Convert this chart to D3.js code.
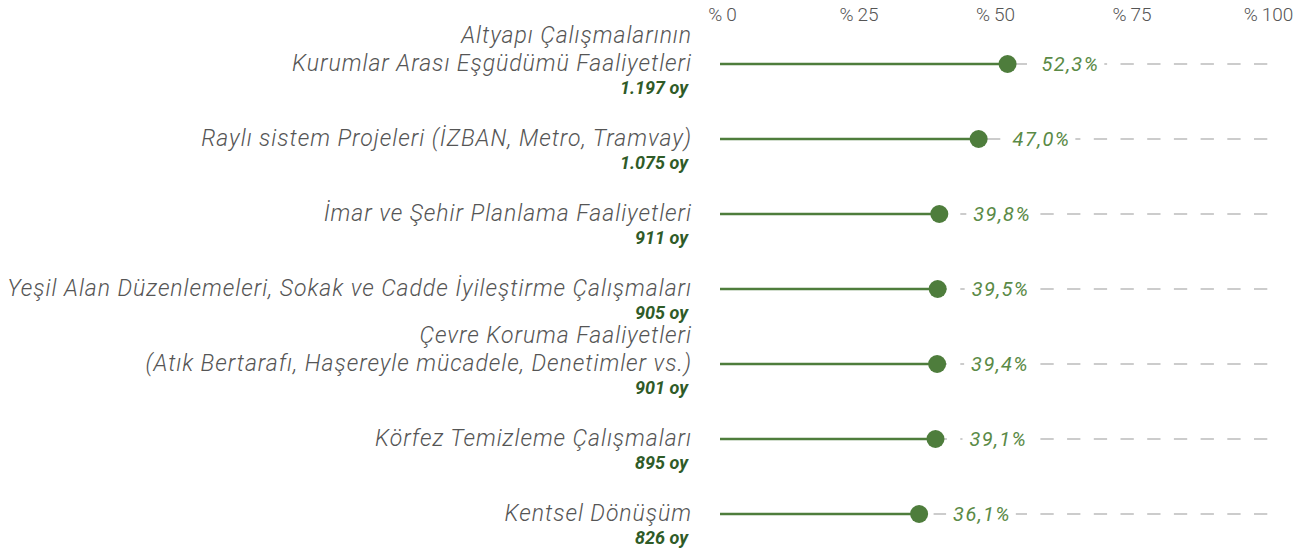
<!DOCTYPE html>
<html><head><meta charset="utf-8">
<script src="https://cdn.jsdelivr.net/npm/d3@7"></script>
<style>
body{margin:0;background:#fff;}
svg{display:block;font-family:Roboto,"Liberation Sans",sans-serif;}
</style></head><body>
<svg id="c" width="1306" height="549"></svg>
<script>
const categories = [
  "Altyapı Çalışmalarının\nKurumlar Arası Eşgüdümü Faaliyetleri",
  "Raylı sistem Projeleri (İZBAN, Metro, Tramvay)",
  "İmar ve Şehir Planlama Faaliyetleri",
  "Yeşil Alan Düzenlemeleri, Sokak ve Cadde İyileştirme Çalışmaları",
  "Çevre Koruma Faaliyetleri\n(Atık Bertarafı, Haşereyle mücadele, Denetimler vs.)",
  "Körfez Temizleme Çalışmaları",
  "Kentsel Dönüşüm"
];
const percentValues = [52.3, 47.0, 39.8, 39.5, 39.4, 39.1, 36.1];
const voteCounts = [1197, 1075, 911, 905, 901, 895, 826];
const tickValues = [0, 25, 50, 75, 100];

const tr = d3.formatLocale({decimal:",", thousands:".", grouping:[3], currency:["₺",""]});
const fmtVotes = tr.format(",d");
const fmtPct = tr.format(".1f");

const svg = d3.select("#c");
const x = d3.scaleLinear().domain([0,100]).range([722,1268]);
const y = d3.scalePoint().domain(categories).range([64,514]);

const green = "#4e7d3c";
const dark = "#2f5b27";

// top axis
const axis = d3.axisTop(x).tickValues(tickValues).tickSize(0).tickPadding(0)
  .tickFormat(d => "%\u2009" + d);
const ag = svg.append("g").attr("transform","translate(0,21)").call(axis);
ag.select(".domain").remove();
ag.selectAll("text").attr("font-size",19).attr("font-weight",300).attr("fill","#555")
  .attr("font-family","Roboto, sans-serif");

const rows = svg.append("g").selectAll("g").data(categories).join("g")
  .attr("transform", d => `translate(0,${y(d)})`);

// dashed background track
rows.append("line")
  .attr("x1", x(0) - 2).attr("x2", x(100))
  .attr("stroke","#cccccc").attr("stroke-width",2)
  .attr("stroke-dasharray","13.3,13.4");

// solid line
rows.append("line")
  .attr("x1", x(0) - 2).attr("x2", (d,i) => x(percentValues[i]))
  .attr("stroke", green).attr("stroke-width",2.6);

rows.append("circle")
  .attr("cx",(d,i)=>x(percentValues[i])).attr("r",9).attr("fill",green);

// value labels with white background
rows.each(function(d,i){
  const g = d3.select(this);
  const tx = x(percentValues[i]) + 34;
  const t = g.append("text").attr("x",tx).attr("y",7)
    .attr("font-size",20).attr("font-style","italic").attr("letter-spacing",1.4).attr("fill","#5a8a46")
    .text(fmtPct(percentValues[i]) + "%");
  const bb = t.node().getBBox();
  g.insert("rect", "text").attr("x", bb.x-7).attr("y",-8).attr("width", bb.width+12).attr("height",16)
    .attr("fill","#fff");
});

// category labels
rows.each(function(d,i){
  const g = d3.select(this);
  const lines = d.split("\n");
  const n = lines.length;
  const t = g.append("text").attr("text-anchor","end").attr("x",692)
    .attr("font-size",23).attr("font-weight",300).attr("font-style","italic")
    .attr("letter-spacing",0.95).attr("fill","#555");
  lines.forEach((l,k)=>{
    t.append("tspan").attr("x",692).attr("y", 7 - (n-1-k)*28).text(l);
  });
  g.append("text").attr("text-anchor","end").attr("x",688).attr("y",30)
    .attr("font-size",18).attr("font-weight",700).attr("font-style","italic").attr("fill",dark)
    .text(fmtVotes(voteCounts[i]) + " oy");
});
</script></body></html>
